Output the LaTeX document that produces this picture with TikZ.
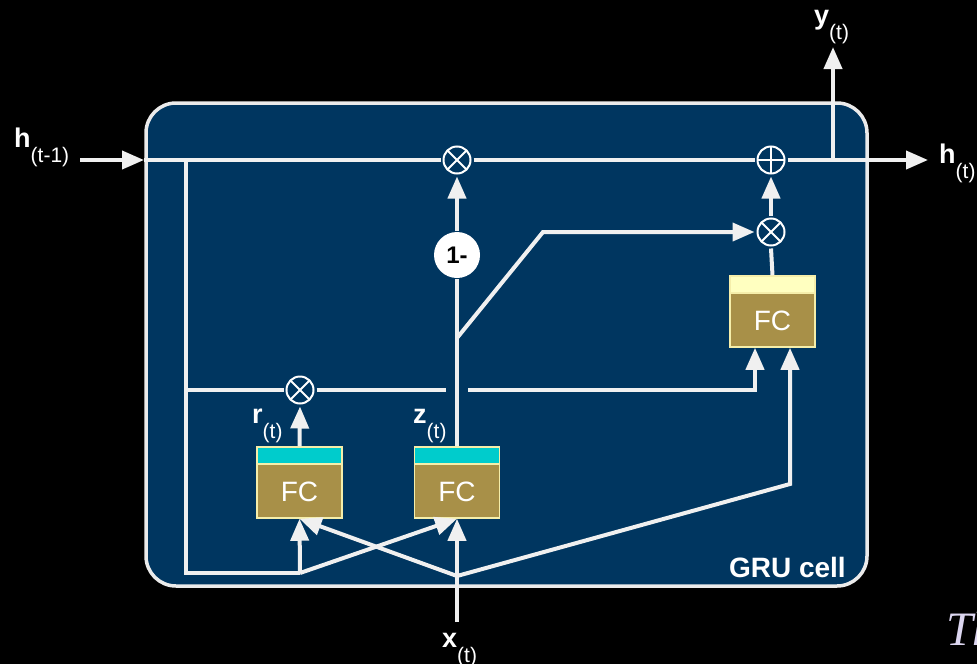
\documentclass[tikz,border=0pt]{standalone}
\usepackage{fontspec}
\newfontfamily\arialf{Liberation Sans}
\newfontfamily\timesf{Liberation Serif}
\usetikzlibrary{arrows.meta}
\definecolor{boxblue}{RGB}{0,54,96}
\definecolor{boxedge}{RGB}{235,235,235}
\definecolor{wirec}{RGB}{240,240,240}
\definecolor{fcbrown}{RGB}{168,144,72}
\definecolor{fccyan}{RGB}{0,204,204}
\definecolor{fcyellow}{RGB}{255,255,192}
\definecolor{fcedge}{RGB}{245,238,170}
\definecolor{lav}{RGB}{220,214,240}
\newcommand{\lbl}[2]{{\fontsize{27}{27}\selectfont\bfseries #1}\raisebox{-15pt}{\fontsize{21}{21}\selectfont #2}}
\begin{document}
\begin{tikzpicture}[x=1pt,y=-1pt,
  wirel/.style={line width=4pt, draw=wirec},
  arrw/.style={wirel, -{Triangle[length=22pt,width=18pt]}},
  opnode/.style={circle, draw=white, line width=2pt, fill=boxblue, minimum size=27pt, inner sep=0pt, outer sep=3pt},
  opmul/.style={opnode, path picture={
     \draw[white,line width=2pt] ([shift={(45:14pt)}]path picture bounding box.center) -- ([shift={(225:14pt)}]path picture bounding box.center);
     \draw[white,line width=2pt] ([shift={(135:14pt)}]path picture bounding box.center) -- ([shift={(315:14pt)}]path picture bounding box.center);}},
  opadd/.style={opnode, path picture={
     \draw[white,line width=2pt] ([shift={(0:14pt)}]path picture bounding box.center) -- ([shift={(180:14pt)}]path picture bounding box.center);
     \draw[white,line width=2pt] ([shift={(90:14pt)}]path picture bounding box.center) -- ([shift={(270:14pt)}]path picture bounding box.center);}},
  onenode/.style={circle, fill=white, minimum size=46pt, inner sep=0pt, outer sep=1pt, text=black, font=\arialf\bfseries\fontsize{24}{24}\selectfont},
  fcbox/.style={draw=fcedge, line width=1.5pt, fill=fcbrown, minimum width=85pt, minimum height=71pt, inner sep=0pt, text=white,
     font=\arialf\fontsize{28}{28}\selectfont, text height=40pt, text depth=3pt,
     path picture={\fill[#1] (path picture bounding box.north west) rectangle ([yshift=-17pt]path picture bounding box.north east);
       \draw[fcedge, line width=1.2pt] ([yshift=-17pt]path picture bounding box.north west) -- ([yshift=-17pt]path picture bounding box.north east);}},
  lab/.style={anchor=base west, inner sep=0pt, text=white, font=\arialf}
]
\useasboundingbox (0,0) rectangle (977,664);
\fill[black] (0,0) rectangle (977,664);
\draw[line width=3.5pt, draw=boxedge, fill=boxblue, rounded corners=30pt] (146,103) rectangle (867,586);

% nodes
\node[opmul] (mul1) at (457,160) {};
\node[opadd] (add) at (771,160) {};
\node[opmul] (mul2) at (771,232) {};
\node[opmul] (mulr) at (300,390) {};
\node[onenode] (one) at (457,255) {1-};
\node[fcbox=fccyan] (fcr) at (299.5,482.5) {FC};
\node[fcbox=fccyan] (fcz) at (457,482.5) {FC};
\node[fcbox=fcyellow] (fch) at (772.5,311.5) {FC};

% coordinates
\coordinate (hin) at (80,160);
\coordinate (hL) at (144,160);
\coordinate (hsplit) at (186,160);
\coordinate (rsplit) at (186,390);
\coordinate (hbot) at (186,573);
\coordinate (hb2) at (300,573);
\coordinate (yj) at (833,160);
\coordinate (ytip) at (833,47);
\coordinate (hout) at (928,160);
\coordinate (zb) at (457,338);
\coordinate (bend) at (543,232);
\coordinate (gapL) at (446,390);
\coordinate (gapR) at (468,390);
\coordinate (hin2) at (755,390);
\coordinate (xs) at (457,622);
\coordinate (xj) at (457,576);
\coordinate (xc) at (790,484);

% connectors
\draw[arrw] (hin) -- (hL);
\draw[wirel] (hL) -- (mul1);
\draw[wirel] (mul1) -- (add);
\draw[arrw] (add) -- (hout);
\draw[arrw] (yj) -- (ytip);
\draw[wirel] (hsplit) -- (hbot) -- (hb2);
\draw[wirel] (rsplit) -- (mulr);
\draw[wirel] (mulr) -- (gapL);
\draw[arrw] (gapR) -- (hin2) -- (hin2 |- fch.south);
\draw[arrw] (xj) -- (xc) -- (xc |- fch.south);
\draw[arrw] (xs) -- (fcz.south);
\draw[arrw] (xj) -- (fcr.south);
\draw[arrw] (hb2) -- (fcr.south);
\draw[arrw] (hb2) -- (fcz.south);
\draw[wirel] (fcz.north) -- (one.south);
\draw[arrw] (one.north) -- (mul1.south);
\draw[arrw] (zb) -- (bend) -- (mul2.west);
\draw[wirel] (fch.north) -- (mul2.south);
\draw[arrw] (mul2.north) -- (add.south);
\draw[arrw] (fcr.north) -- (mulr.south);

% labels
\node[lab] (lhin) at (14,147) {\lbl{h}{(t-1)}};
\node[lab] (lhout) at (939,163) {\lbl{h}{(t)}};
\node[lab] (ly) at (814,24) {\lbl{y}{(t)}};
\node[lab] (lx) at (442,647) {\lbl{x}{(t)}};
\node[lab] (lr) at (252,423) {\lbl{r}{(t)}};
\node[lab] (lz) at (413,423) {\lbl{z}{(t)}};
\node[anchor=base east, inner sep=0pt, text=white, font=\arialf\bfseries\fontsize{28}{28}\selectfont] (gru) at (846,577) {GRU cell};
\node[anchor=base west, inner sep=0pt, text=lav, font=\timesf\itshape\fontsize{48}{48}\selectfont] (th) at (946,645) {Th};
\end{tikzpicture}
\end{document}
